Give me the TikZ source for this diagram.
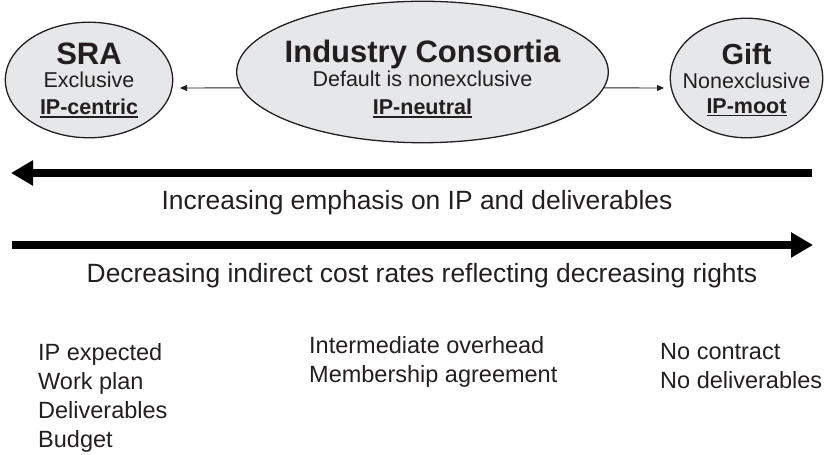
\documentclass[tikz,border=0pt]{standalone}
\usepackage{fontspec}
\setmainfont{Liberation Sans}
\usetikzlibrary{arrows.meta,shapes.geometric}
\definecolor{ovalgray}{RGB}{230,231,232}
\definecolor{ink}{RGB}{35,31,32}
\newcommand{\undl}[1]{\leavevmode\setbox0=\hbox{#1}\rlap{\rule[-3bp]{\wd0}{1.6bp}}\box0}
\begin{document}
\begin{tikzpicture}[x=1bp,y=1bp,
    oval/.style={ellipse,draw=ink,line width=1.3bp,fill=ovalgray,inner sep=0pt},
    ovaltext/.style={anchor=north,align=center,inner sep=0pt,text=ink,font=\fontsize{21.5bp}{27bp}\selectfont},
    bigtext/.style={anchor=base,inner sep=0pt,text=ink,font=\fontsize{26.4bp}{31bp}\selectfont},
    listtext/.style={anchor=north west,align=left,inner sep=0pt,text=ink,font=\fontsize{23.5bp}{29bp}\selectfont},
    thinarrow/.style={draw=ink,line width=0.9bp,-{Triangle[length=7bp,width=6bp]}},
    bigarrow/.style={draw=black,line width=8bp,-{Triangle[length=22bp,width=24bp]}}]
    \useasboundingbox (0,0) rectangle (824,455);
    % the three ovals
    \node[oval,minimum width=168,minimum height=116] (sra) at (89,375) {};
    \node[oval,minimum width=373,minimum height=142] (ind) at (422.5,383) {};
    \node[oval,minimum width=153,minimum height=120] (gift) at (746.5,377) {};
    \node[ovaltext] (sratext) at (89,412) {{\fontsize{31bp}{31bp}\selectfont\bfseries SRA}\\[-4bp]
        Exclusive\\ \textbf{\undl{IP-centric}}};
    \node[ovaltext] (indtext) at (422.5,415) {{\fontsize{31bp}{31bp}\selectfont\bfseries Industry Consortia}\\[-3bp]
        Default is nonexclusive\\[1bp] \textbf{\undl{IP-neutral}}};
    \node[ovaltext] (gifttext) at (746.5,412) {{\fontsize{29bp}{29bp}\selectfont\bfseries Gift}\\[-3bp]
        Nonexclusive\\[-2bp] \textbf{\undl{IP-moot}}};
    \coordinate (sraend) at (180,367);
    \coordinate (giftend) at (664,367);
    \draw[thinarrow] (ind.185) -- (sraend);
    \draw[thinarrow] (ind.355) -- (giftend);
    % the two long arrows
    \coordinate (topR) at (812,282);
    \coordinate (topL) at (11,282);
    \coordinate (botL) at (12,210);
    \coordinate (botR) at (813,210);
    \draw[bigarrow] (topR) -- (topL);
    \draw[bigarrow] (botL) -- (botR);
    \node[bigtext] (inctext) at (417,245) {Increasing emphasis on IP and deliverables};
    \node[bigtext] (dectext) at (422,172) {Decreasing indirect cost rates reflecting decreasing rights};
    % lists
    \node[listtext] (sralist) at (38,112) {IP expected\\Work plan\\Deliverables\\Budget};
    \node[listtext] (indlist) at (309,119) {Intermediate overhead\\Membership agreement};
    \node[listtext] (giftlist) at (660,112) {No contract\\No deliverables};
\end{tikzpicture}
\end{document}
